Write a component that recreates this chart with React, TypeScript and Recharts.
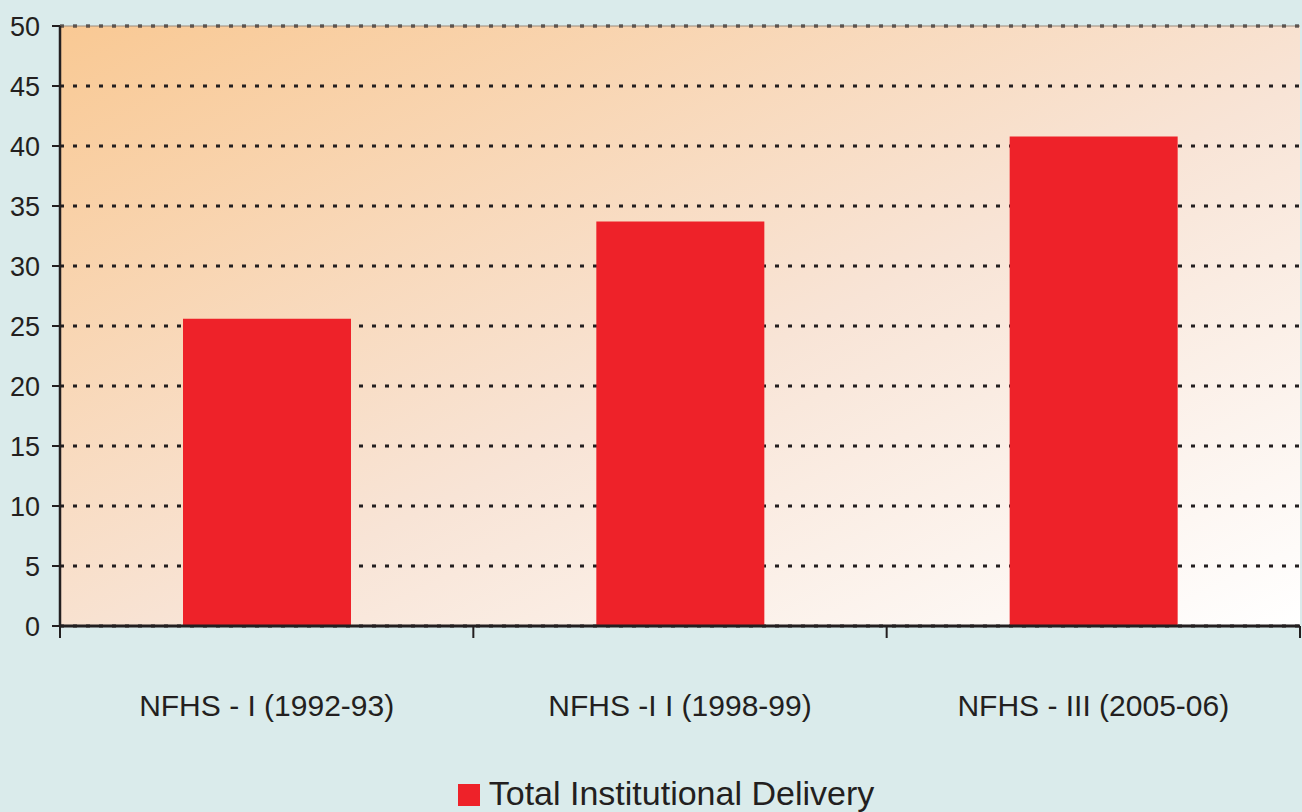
import React from 'react';
import { BarChart, Bar, XAxis, YAxis, CartesianGrid, Legend, ReferenceLine } from 'recharts';

// Institutional delivery share (%) by survey round
const categories = ['NFHS - I (1992-93)', 'NFHS -I I (1998-99)', 'NFHS - III (2005-06)'];
const deliveryValues = [25.6, 33.7, 40.8];
const yTicks = [0, 5, 10, 15, 20, 25, 30, 35, 40, 45, 50];
// x ticks: integers are category edges (tick marks), halves are category centres (labels)
const xTicks = [0, 0.5, 1, 1.5, 2, 2.5, 3];
const seriesName = 'Total Institutional Delivery';

const data = categories.map((name, i) => ({ name, value: deliveryValues[i], pos: i + 0.5 }));

const INK = '#231f20';
const RED = '#ee2229';
const FONT = 'Liberation Sans, Arial, sans-serif';

const XTick = (props: any) => {
  const { x, y, payload } = props;
  const v = payload.value;
  if (Number.isInteger(v)) {
    return <line x1={x} y1={y} x2={x} y2={y + 12} stroke={INK} strokeWidth={2} />;
  }
  return (
    <text x={x} y={y + 90} textAnchor="middle" fontSize={30} fill={INK} fontFamily={FONT}>
      {categories[Math.floor(v)]}
    </text>
  );
};

const LegendBox = () => (
  <div style={{ display: 'flex', justifyContent: 'center', alignItems: 'center', paddingLeft: 32, height: 52 }}>
    <span style={{ width: 22, height: 22, background: RED, display: 'inline-block', marginRight: 9, marginTop: 18 }} />
    <span style={{ fontSize: 34, color: INK, fontFamily: FONT, marginTop: 14 }}>{seriesName}</span>
  </div>
);

export default function App() {
  return (
    <div style={{ position: 'absolute', left: 0, top: 0, width: 1302, height: 812, background: '#daebeb' }}>
      <BarChart width={1302} height={812} data={data} margin={{ top: 26, right: 2, left: 0, bottom: 0 }}>
        <defs>
          <linearGradient id="plotBg" x1="0" y1="0" x2="1" y2="1">
            <stop offset="0%" stopColor="#f9c994" />
            <stop offset="55%" stopColor="#f8e4d6" />
            <stop offset="100%" stopColor="#ffffff" />
          </linearGradient>
        </defs>
        <CartesianGrid vertical={false} fill="url(#plotBg)" stroke={INK} strokeWidth={3} strokeDasharray="4 9" />
        <ReferenceLine y={50} stroke="#9a8a7c" strokeWidth={1} />
        <XAxis
          type="number"
          dataKey="pos"
          domain={[0, 3]}
          ticks={xTicks}
          tick={<XTick />}
          tickSize={0}
          tickMargin={0}
          tickLine={false}
          interval={0}
          axisLine={{ stroke: INK, strokeWidth: 3 }}
          height={134}
        />
        <YAxis
          domain={[0, 50]}
          ticks={yTicks}
          width={60}
          tickSize={8}
          tickMargin={12}
          interval={0}
          axisLine={{ stroke: INK, strokeWidth: 2.5 }}
          tickLine={{ stroke: INK, strokeWidth: 2 }}
          tick={{ fontSize: 27, fill: INK, fontFamily: FONT }}
        />
        <YAxis
          yAxisId="right"
          orientation="right"
          domain={[0, 50]}
          width={0}
          tick={false}
          tickLine={false}
          axisLine={{ stroke: INK, strokeWidth: 2.5 }}
        />
        <Legend verticalAlign="bottom" height={52} content={<LegendBox />} />
        <Bar dataKey="value" name={seriesName} fill={RED} barSize={168} isAnimationActive={false} />
      </BarChart>
    </div>
  );
}
